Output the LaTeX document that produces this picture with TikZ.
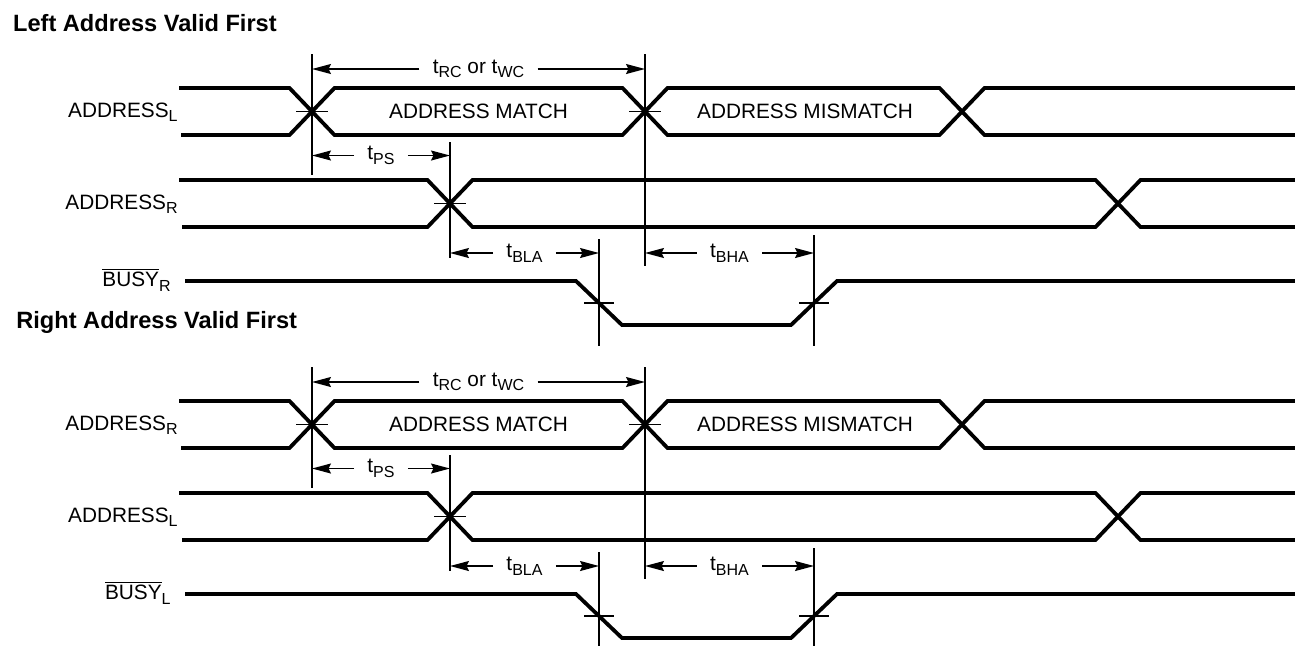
\documentclass[tikz,border=0pt]{standalone}
\usepackage{fontspec}
\setmainfont{Liberation Sans}
\usetikzlibrary{arrows.meta}

\newcommand{\lsub}[1]{\raisebox{-2.3pt}{\fontsize{8}{9}\selectfont #1}}

\begin{document}
\begin{tikzpicture}[x=0.5pt,y=-0.5pt,>={Stealth[length=9.5pt,width=5pt,inset=1.2pt]},
  font=\fontsize{10.4}{12.4}\selectfont,
  wave/.style={line width=1.9pt},
  guide/.style={line width=0.7pt},
  siglabel/.style={anchor=base east,inner sep=0pt},
  tlabel/.style={inner xsep=6.5pt,inner ysep=1pt},
  heading/.style={anchor=west,inner sep=0pt,font=\fontsize{11.8}{14}\selectfont\bfseries}]
\useasboundingbox (0,0) rectangle (1295,645);
\clip (0,0) rectangle (1295,645);

% headings
\node[heading] (headL) at (12.7,23.3) {Left Address Valid First};
\node[heading] (headR) at (16,322) {Right Address Valid First};

\foreach \dy/\s/\fa/\fb in {0/t/L/R,313/b/R/L}{
\begin{scope}[shift={(0,\dy)}]
% signal names
\node[siglabel] (na\s) at (178,117) {ADDRESS\lsub{\fa}};
\node[siglabel] (nb\s) at (178,209) {ADDRESS\lsub{\fb}};
\node[siglabel] (nc\s) at (171,286.5) {$\overline{\mbox{BUSY}}$\lsub{\fb}};

% address that comes first
\draw[wave] (179,88) -- (289.5,88) -- (334.5,135) -- (622.5,135) -- (667.5,88)
  -- (939.5,88) -- (984.5,135) -- (1295,135);
\draw[wave] (181,135) -- (289.5,135) -- (334.5,88) -- (622.5,88) -- (667.5,135)
  -- (939.5,135) -- (984.5,88) -- (1295,88);
\node (match\s) at (478.5,111.5) {ADDRESS MATCH};
\node (mism\s) at (805,111.5) {ADDRESS MISMATCH};

% address that comes second
\draw[wave] (179,180) -- (427.5,180) -- (472.5,227) -- (1095.5,227) -- (1140.5,180) -- (1295,180);
\draw[wave] (182,227) -- (427.5,227) -- (472.5,180) -- (1095.5,180) -- (1140.5,227) -- (1295,227);

% busy output
\draw[wave] (185,281) -- (576,281) -- (622,325) -- (791,325) -- (837,281) -- (1295,281);

% timing references
\coordinate (v1a\s) at (312,54);  \coordinate (v1b\s) at (312,175);
\coordinate (v2a\s) at (645,54);  \coordinate (v2b\s) at (645,266);
\coordinate (v3a\s) at (450,142); \coordinate (v3b\s) at (450,258);
\coordinate (v4a\s) at (599,239); \coordinate (v4b\s) at (599,346);
\coordinate (v5a\s) at (814,235); \coordinate (v5b\s) at (814,346);
\foreach \v in {1,...,5}
  \draw[guide] (v\v a\s) -- (v\v b\s);

% crossing ticks
\foreach \x/\y/\w in {312/111.5/16,645/111.5/16,450/203.5/16,599/303/15,814/303/15}
  \draw[guide] (\x-\w,\y) -- (\x+\w,\y);

% intervals
\node[tlabel] (trc\s) at (478.5,69) {t\lsub{RC} or t\lsub{WC}};
\draw[guide,->] (trc\s.west) -- (v1a\s |- trc\s.west);
\draw[guide,->] (trc\s.east) -- (v2a\s |- trc\s.east);

\node[tlabel] (tps\s) at (381,155.5) {t\lsub{PS}};
\draw[guide,->] (tps\s.west) -- (v1a\s |- tps\s.west);
\draw[guide,->] (tps\s.east) -- (v3a\s |- tps\s.east);

\node[tlabel] (tbla\s) at (524.5,253) {t\lsub{BLA}};
\draw[guide,->] (tbla\s.west) -- (v3a\s |- tbla\s.west);
\draw[guide,->] (tbla\s.east) -- (v4a\s |- tbla\s.east);

\node[tlabel] (tbha\s) at (729.5,253) {t\lsub{BHA}};
\draw[guide,->] (tbha\s.west) -- (v2a\s |- tbha\s.west);
\draw[guide,->] (tbha\s.east) -- (v5a\s |- tbha\s.east);
\end{scope}
}
\end{tikzpicture}
\end{document}
